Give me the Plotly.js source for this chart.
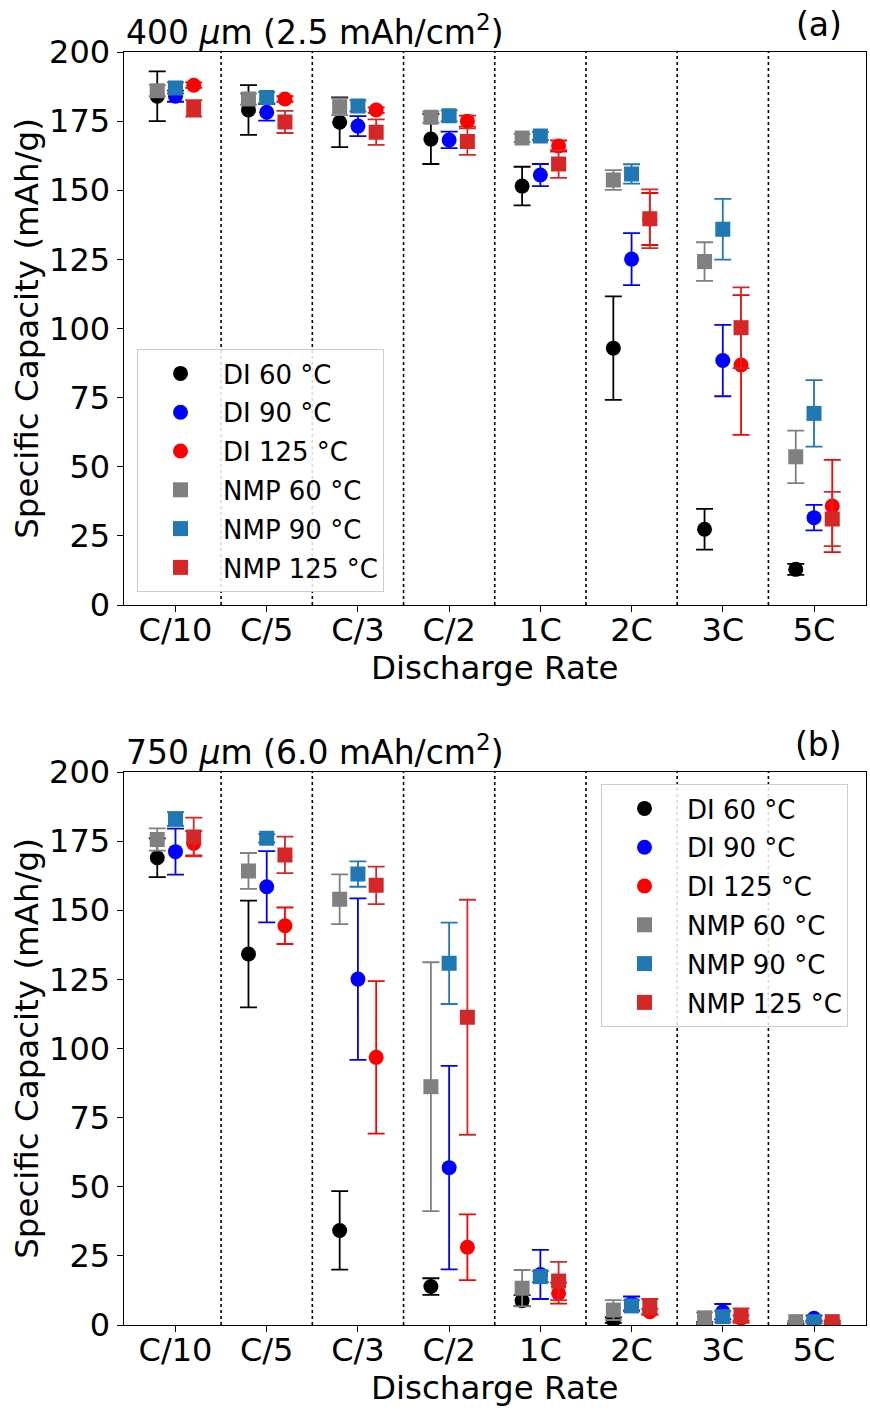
<!DOCTYPE html>
<html>
<head>
<meta charset="utf-8">
<script src="https://cdn.plot.ly/plotly-3.0.1.min.js"></script>
<style>
  html, body { margin: 0; padding: 0; background: #fff; }
  #chart { width: 870px; height: 1410px; }
</style>
</head>
<body>
<div id="chart"></div>
<script>
// ---------- data ----------
const categories = ['C/10', 'C/5', 'C/3', 'C/2', '1C', '2C', '3C', '5C'];
const seriesNames = ['DI 60 °C', 'DI 90 °C', 'DI 125 °C', 'NMP 60 °C', 'NMP 90 °C', 'NMP 125 °C'];

// Panel (a): 400 um
const a_DI60      = [184.0, 179.0, 174.6, 168.5, 151.5, 92.9, 27.4, 12.9];
const a_DI60_err  = [9.0, 9.0, 9.0, 9.0, 7.0, 18.7, 7.4, 2.0];
const a_DI90      = [184.0, 178.2, 173.2, 168.2, 155.5, 125.1, 88.4, 31.6];
const a_DI90_err  = [2.0, 3.0, 3.6, 3.0, 4.0, 9.4, 12.9, 4.6];
const a_DI125     = [188.0, 183.0, 179.0, 175.0, 166.0, 139.6, 86.8, 35.8];
const a_DI125_err = [1.0, 1.0, 1.0, 2.0, 2.0, 9.4, 25.3, 16.7];
const a_NMP60      = [186.0, 183.0, 180.2, 176.4, 168.9, 153.7, 124.2, 53.6];
const a_NMP60_err  = [2.0, 2.0, 3.0, 2.0, 1.5, 3.6, 7.0, 9.5];
const a_NMP90      = [187.0, 183.5, 180.5, 176.9, 169.6, 155.9, 135.9, 69.3];
const a_NMP90_err  = [2.0, 2.0, 2.0, 2.0, 1.5, 3.5, 11.0, 12.0];
const a_NMP125     = [179.6, 174.7, 171.0, 167.6, 159.5, 139.7, 100.3, 31.1];
const a_NMP125_err = [3.0, 4.0, 4.6, 4.8, 5.0, 10.6, 14.6, 9.8];

// Panel (b): 750 um
const b_DI60      = [169.0, 134.2, 34.2, 13.9, 8.8, 1.8, 0.5, 0.3];
const b_DI60_err  = [7.0, 19.3, 14.2, 3.0, 2.0, 1.0, 0.5, 0.3];
const b_DI90      = [171.2, 158.5, 125.1, 56.9, 18.3, 7.8, 4.8, 2.4];
const b_DI90_err  = [8.3, 12.9, 29.2, 36.8, 8.9, 2.5, 2.8, 1.0];
const b_DI125     = [174.2, 144.4, 96.8, 28.1, 11.5, 4.8, 2.5, 0.8];
const b_DI125_err = [4.4, 6.6, 27.6, 11.9, 3.8, 1.0, 1.0, 0.5];
const b_NMP60      = [175.6, 164.2, 154.0, 86.2, 13.3, 5.4, 2.6, 1.2];
const b_NMP60_err  = [4.0, 6.5, 9.0, 45.0, 6.6, 3.6, 2.0, 0.3];
const b_NMP90      = [183.0, 176.0, 163.1, 130.8, 17.5, 6.9, 3.0, 1.2];
const b_NMP90_err  = [2.5, 1.5, 4.6, 14.7, 2.0, 2.0, 2.0, 0.5];
const b_NMP125     = [176.5, 170.0, 159.0, 111.3, 15.9, 6.6, 3.4, 1.2];
const b_NMP125_err = [7.0, 6.6, 6.8, 42.5, 6.9, 2.8, 2.6, 0.5];

const yTicks = [0, 25, 50, 75, 100, 125, 150, 175, 200];

// ---------- styling ----------
const FONT = 'DejaVu Sans, Verdana, sans-serif';
const colors = ['#000000', '#0000ff', '#ff0000', '#808080', '#1f77b4', '#d62728'];
const symbols = ['circle', 'circle', 'circle', 'square', 'square', 'square'];
const tempOffset = [-0.2, 0, 0.2, -0.2, 0, 0.2];

const panelA = [[a_DI60, a_DI60_err], [a_DI90, a_DI90_err], [a_DI125, a_DI125_err],
                [a_NMP60, a_NMP60_err], [a_NMP90, a_NMP90_err], [a_NMP125, a_NMP125_err]];
const panelB = [[b_DI60, b_DI60_err], [b_DI90, b_DI90_err], [b_DI125, b_DI125_err],
                [b_NMP60, b_NMP60_err], [b_NMP90, b_NMP90_err], [b_NMP125, b_NMP125_err]];

function makeTraces(panel, xa, ya, legendId, tag) {
  return panel.map(([vals, errs], k) => ({
    type: 'scatter',
    mode: 'markers',
    name: seriesNames[k],
    x: categories.map((c, i) => i + tempOffset[k]),
    y: vals,
    xaxis: xa, yaxis: ya,
    legend: legendId,
    legendgroup: tag + k,
    marker: { color: colors[k], symbol: symbols[k], size: 15, line: { width: 0 } },
    error_y: { type: 'data', array: errs, visible: true, color: colors[k], thickness: 1.8, width: 8.5 },
    hoverinfo: 'x+y'
  }));
}

const traces = [].concat(
  makeTraces(panelA, 'x', 'y', 'legend', 'a'),
  makeTraces(panelB, 'x2', 'y2', 'legend2', 'b')
);

const W = 870, H = 1410;
const xDom = [123.5 / W, 866 / W];
const yDomA = [1 - 605 / H, 1 - 52 / H];
const yDomB = [1 - 1325 / H, 1 - 772 / H];

function xAxis(domain, anchor) {
  return {
    domain: domain, anchor: anchor,
    range: [-0.57, 7.57],
    tickmode: 'array', tickvals: categories.map((c, i) => i), ticktext: categories,
    ticks: 'outside', ticklen: 6, tickwidth: 1, tickcolor: '#000',
    ticklabelstandoff: -9,
    showline: true, mirror: true, linecolor: '#000', linewidth: 1,
    showgrid: false, zeroline: false,
    tickfont: { family: FONT, size: 32, color: '#000' },
    title: { text: 'Discharge Rate', font: { family: FONT, size: 32.5, color: '#000' }, standoff: 0 }
  };
}
function yAxis(domain, anchor) {
  return {
    domain: domain, anchor: anchor,
    range: [0, 200],
    tickmode: 'array', tickvals: yTicks,
    ticks: 'outside', ticklen: 6, tickwidth: 1, tickcolor: '#000',
    showline: true, mirror: true, linecolor: '#000', linewidth: 1,
    showgrid: false, zeroline: false,
    tickfont: { family: FONT, size: 32, color: '#000' },
    title: { text: 'Specific Capacity (mAh/g)', font: { family: FONT, size: 32.5, color: '#000' }, standoff: 0 }
  };
}

const shapes = [];
[['x', 'y domain'], ['x2', 'y2 domain']].forEach(([xr, yr]) => {
  for (let i = 0; i < categories.length - 1; i++) {
    shapes.push({ type: 'line', xref: xr, yref: yr, x0: i + 0.5, x1: i + 0.5, y0: 0, y1: 1,
      line: { color: '#000', width: 1.6, dash: 'dot' }, layer: 'below' });
  }
});

const annFont = { family: FONT, size: 33, color: '#000' };
const annotations = [
  { xref: 'paper', yref: 'paper', x: xDom[0], y: yDomA[1] - 2 / H, xanchor: 'left', yanchor: 'bottom',
    text: '400 <i>μ</i>m (2.5 mAh/cm<sup>2</sup>)', showarrow: false, font: annFont },
  { xref: 'paper', yref: 'paper', x: 844 / W, y: yDomA[1] + 6 / H, xanchor: 'right', yanchor: 'bottom',
    text: '(a)', showarrow: false, font: annFont },
  { xref: 'paper', yref: 'paper', x: xDom[0], y: yDomB[1] - 2 / H, xanchor: 'left', yanchor: 'bottom',
    text: '750 <i>μ</i>m (6.0 mAh/cm<sup>2</sup>)', showarrow: false, font: annFont },
  { xref: 'paper', yref: 'paper', x: 844 / W, y: yDomB[1] + 6 / H, xanchor: 'right', yanchor: 'bottom',
    text: '(b)', showarrow: false, font: annFont }
];

const legendStyle = {
  xanchor: 'left', yanchor: 'top',
  bgcolor: 'rgba(255,255,255,0.85)', bordercolor: '#cccccc', borderwidth: 1,
  font: { family: FONT, size: 26, color: '#000' },
  tracegroupgap: 2, itemwidth: 75
};

const layout = {
  width: W, height: H,
  margin: { l: 0, r: 0, t: 0, b: 0 },
  paper_bgcolor: '#fff', plot_bgcolor: '#fff',
  font: { family: FONT, color: '#000' },
  xaxis: xAxis(xDom, 'y'),
  yaxis: yAxis(yDomA, 'x'),
  xaxis2: xAxis(xDom, 'y2'),
  yaxis2: yAxis(yDomB, 'x2'),
  legend: Object.assign({ x: 137 / W, y: 1 - 349 / H }, legendStyle),
  legend2: Object.assign({ x: 601 / W, y: 1 - 784 / H }, legendStyle),
  showlegend: true,
  shapes: shapes,
  annotations: annotations
};

Plotly.newPlot('chart', traces, layout, { displayModeBar: false, staticPlot: true });
</script>
</body>
</html>
